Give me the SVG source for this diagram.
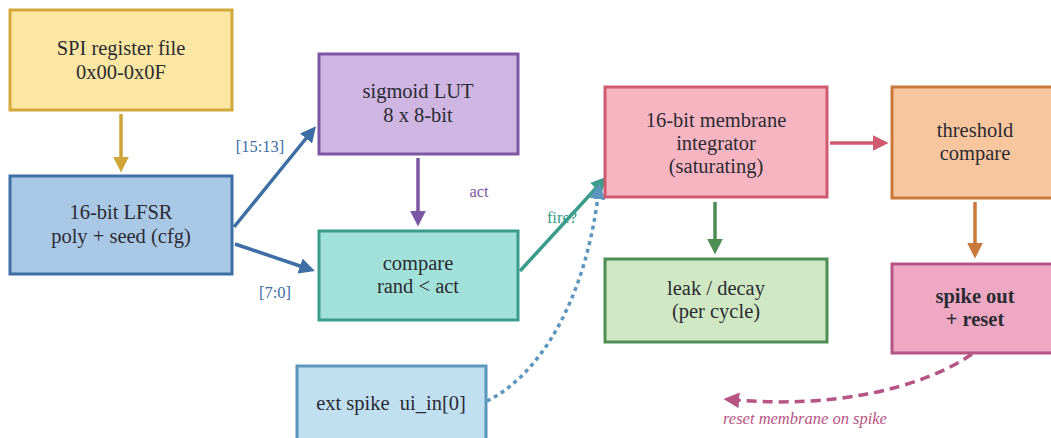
<svg xmlns="http://www.w3.org/2000/svg" width="1051" height="438" viewBox="0 0 1051 438">
  <style>
    .box { stroke-width: 3; }
    .t { font-family: 'Liberation Serif', 'DejaVu Serif', serif; font-size: 20.5px; fill: #2b2b33; text-anchor: middle; white-space: pre; }
    .b { font-weight: bold; }
    .lbl { font-family: 'Liberation Serif', 'DejaVu Serif', serif; font-size: 16.5px; text-anchor: middle; }
    .edge { fill: none; stroke-width: 3.5; }
  </style>
  <defs>
    <marker id="ah-gold" viewBox="0 0 10 10" refX="2" refY="5" markerWidth="4.5" markerHeight="4.5" orient="auto"><path d="M0,0 L10,5 L0,10 z" fill="#cfa537"/></marker>
    <marker id="ah-blue" viewBox="0 0 10 10" refX="2" refY="5" markerWidth="4.5" markerHeight="4.5" orient="auto"><path d="M0,0 L10,5 L0,10 z" fill="#3d6ea4"/></marker>
    <marker id="ah-purple" viewBox="0 0 10 10" refX="2" refY="5" markerWidth="4.5" markerHeight="4.5" orient="auto"><path d="M0,0 L10,5 L0,10 z" fill="#7c57a3"/></marker>
    <marker id="ah-teal" viewBox="0 0 10 10" refX="2" refY="5" markerWidth="4.5" markerHeight="4.5" orient="auto"><path d="M0,0 L10,5 L0,10 z" fill="#3a9c8c"/></marker>
    <marker id="ah-sky" viewBox="0 0 10 10" refX="2" refY="5" markerWidth="4.5" markerHeight="4.5" orient="auto"><path d="M0,0 L10,5 L0,10 z" fill="#5a96be"/></marker>
    <marker id="ah-red" viewBox="0 0 10 10" refX="2" refY="5" markerWidth="4.5" markerHeight="4.5" orient="auto"><path d="M0,0 L10,5 L0,10 z" fill="#cf5b70"/></marker>
    <marker id="ah-green" viewBox="0 0 10 10" refX="2" refY="5" markerWidth="4.5" markerHeight="4.5" orient="auto"><path d="M0,0 L10,5 L0,10 z" fill="#4e8d55"/></marker>
    <marker id="ah-orange" viewBox="0 0 10 10" refX="2" refY="5" markerWidth="4.5" markerHeight="4.5" orient="auto"><path d="M0,0 L10,5 L0,10 z" fill="#c97a3a"/></marker>
    <marker id="ah-pink" viewBox="0 0 10 10" refX="2" refY="5" markerWidth="4.5" markerHeight="4.5" orient="auto"><path d="M0,0 L10,5 L0,10 z" fill="#b65585"/></marker>
  </defs>

  <g id="connectors">
    <line class="edge" x1="121" y1="114" x2="121" y2="160" stroke="#cfa537" marker-end="url(#ah-gold)"/>
    <line class="edge" x1="234" y1="227" x2="308" y2="136" stroke="#3d6ea4" marker-end="url(#ah-blue)"/>
    <text class="lbl" x="260" y="152" fill="#3d6ea4">[15:13]</text>
    <line class="edge" x1="235" y1="244" x2="303" y2="267" stroke="#3d6ea4" marker-end="url(#ah-blue)"/>
    <text class="lbl" x="275" y="298" fill="#3d6ea4">[7:0]</text>
    <line class="edge" x1="418" y1="158" x2="418" y2="214" stroke="#7c57a3" marker-end="url(#ah-purple)"/>
    <text class="lbl" x="479" y="197" fill="#7c57a3">act</text>
    <line class="edge" x1="520" y1="271" x2="598" y2="186" stroke="#3a9c8c" marker-end="url(#ah-teal)"/>
    <text class="lbl" x="562" y="223" fill="#3a9c8c">fire?</text>
    <path class="edge" d="M487,401 C540,375 585,300 598,196" stroke="#5a96be" stroke-dasharray="4 4" marker-end="url(#ah-sky)"/>
    <line class="edge" x1="830" y1="143" x2="876" y2="143" stroke="#cf5b70" marker-end="url(#ah-red)"/>
    <line class="edge" x1="715" y1="202" x2="715" y2="242" stroke="#4e8d55" marker-end="url(#ah-green)"/>
    <line class="edge" x1="975" y1="202" x2="975" y2="246" stroke="#c97a3a" marker-end="url(#ah-orange)"/>
    <path class="edge" d="M972,354 C920,390 830,408 736,400" stroke="#b65585" stroke-dasharray="10 6" marker-end="url(#ah-pink)"/>
    <text class="lbl" x="805" y="424" fill="#b65585" font-style="italic">reset membrane on spike</text>
  </g>

  <g id="spi">
    <rect class="box" x="10" y="10" width="222" height="100" fill="#fbe6a2" stroke="#d1a93b"/>
    <text class="t" x="121" y="55">SPI register file</text>
    <text class="t" x="121" y="79">0x00-0x0F</text>
  </g>
  <g id="lfsr">
    <rect class="box" x="10" y="176" width="222" height="98" fill="#a9c8e6" stroke="#3d6ea4"/>
    <text class="t" x="121" y="219">16-bit LFSR</text>
    <text class="t" x="121" y="243">poly + seed (cfg)</text>
  </g>
  <g id="lut">
    <rect class="box" x="319" y="54" width="199" height="100" fill="#cfb5e2" stroke="#7c57a3"/>
    <text class="t" x="418" y="98">sigmoid LUT</text>
    <text class="t" x="418" y="122">8 x 8-bit</text>
  </g>
  <g id="cmp">
    <rect class="box" x="319" y="231" width="199" height="89" fill="#a2e1da" stroke="#3a9c8c"/>
    <text class="t" x="418" y="270">compare</text>
    <text class="t" x="418" y="293">rand &lt; act</text>
  </g>
  <g id="ext">
    <rect class="box" x="297" y="366" width="189" height="80" fill="#c0e0f2" stroke="#5a96be"/>
    <text class="t" x="391" y="410" xml:space="preserve">ext spike  ui_in[0]</text>
  </g>
  <g id="membrane">
    <rect class="box" x="605" y="87" width="222" height="110" fill="#f7b4c1" stroke="#cf5b70"/>
    <text class="t" x="716" y="127">16-bit membrane</text>
    <text class="t" x="716" y="150">integrator</text>
    <text class="t" x="716" y="173">(saturating)</text>
  </g>
  <g id="leak">
    <rect class="box" x="605" y="259" width="222" height="83" fill="#cfe8c3" stroke="#4e8d55"/>
    <text class="t" x="716" y="295">leak / decay</text>
    <text class="t" x="716" y="318">(per cycle)</text>
  </g>
  <g id="threshold">
    <rect class="box" x="892" y="87" width="170" height="111" fill="#f8c69e" stroke="#c97a3a"/>
    <text class="t" x="975" y="137">threshold</text>
    <text class="t" x="975" y="160">compare</text>
  </g>
  <g id="spike">
    <rect class="box" x="892" y="264" width="170" height="89" fill="#eea8c4" stroke="#b65585"/>
    <text class="t b" x="975" y="303">spike out</text>
    <text class="t b" x="975" y="326">+ reset</text>
  </g>
</svg>
